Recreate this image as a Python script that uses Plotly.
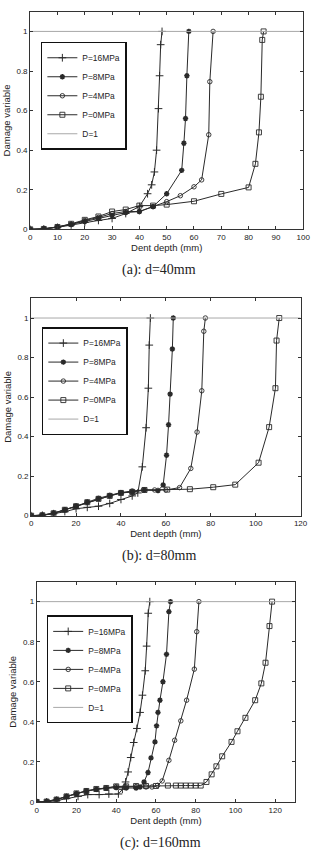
import plotly.graph_objects as go

# ---------------- data ----------------
series_names = ["P=16MPa", "P=8MPa", "P=4MPa", "P=0MPa"]

# (a) d=40mm
depth_a_p16 = [0, 5, 10, 15, 20, 25, 30, 35, 40, 43, 44.5, 45.5, 46.3, 47, 47.4, 47.8, 48.3]
damage_a_p16 = [0, 0.002, 0.01, 0.022, 0.035, 0.045, 0.055, 0.08, 0.115, 0.18, 0.225, 0.29, 0.40, 0.61, 0.776, 0.933, 1.0]
depth_a_p8 = [0, 5, 10, 15, 20, 25, 30, 35, 40, 45, 50, 55.5, 56.3, 56.9, 57.4, 58.1]
damage_a_p8 = [0, 0.003, 0.012, 0.025, 0.04, 0.055, 0.07, 0.085, 0.09, 0.115, 0.18, 0.298, 0.435, 0.56, 0.776, 1.0]
depth_a_p4 = [0, 5, 10, 15, 20, 25, 30, 35, 40, 45, 50, 55, 60, 62.8, 65.4, 65.8, 67]
damage_a_p4 = [0, 0.003, 0.012, 0.025, 0.045, 0.06, 0.08, 0.09, 0.09, 0.115, 0.14, 0.17, 0.215, 0.25, 0.478, 0.746, 1.0]
depth_a_p0 = [0, 5, 10, 15, 20, 25, 30, 35, 40, 45, 50, 60, 70, 80, 82.5, 83.8, 84.5, 85, 85.5]
damage_a_p0 = [0, 0.002, 0.012, 0.028, 0.048, 0.065, 0.09, 0.1, 0.12, 0.12, 0.125, 0.142, 0.179, 0.212, 0.331, 0.49, 0.67, 0.957, 1.0]

# (b) d=80mm
depth_b_p16 = [0, 5, 10, 15, 20, 25, 30, 35, 40, 45, 47.5, 49.5, 51.2, 52.2, 52.6, 53.1]
damage_b_p16 = [0, 0.002, 0.01, 0.02, 0.035, 0.042, 0.048, 0.062, 0.082, 0.1, 0.115, 0.247, 0.445, 0.645, 0.863, 1.0]
depth_b_p8 = [0, 5, 10, 15, 20, 25, 30, 35, 40, 45, 50.5, 56.5, 58.8, 60.3, 61.2, 61.9, 62.9, 63.3]
damage_b_p8 = [0, 0.003, 0.012, 0.03, 0.048, 0.068, 0.085, 0.1, 0.115, 0.12, 0.13, 0.127, 0.155, 0.306, 0.46, 0.615, 0.843, 1.0]
depth_b_p4 = [0, 5, 10, 15, 20, 25, 30, 35, 40, 45, 50, 55, 60, 66.1, 71.1, 73.9, 76, 76.9, 77.6]
damage_b_p4 = [0, 0.003, 0.013, 0.03, 0.048, 0.068, 0.088, 0.103, 0.117, 0.125, 0.13, 0.13, 0.13, 0.142, 0.239, 0.423, 0.632, 0.933, 1.0]
depth_b_p0 = [0, 5, 10, 15, 20, 25, 30, 35, 40, 45, 50.5, 60.6, 70.7, 81.1, 90.9, 101.3, 106, 108.8, 109.3, 110.5]
damage_b_p0 = [0, 0.002, 0.012, 0.03, 0.048, 0.068, 0.085, 0.1, 0.115, 0.12, 0.13, 0.132, 0.134, 0.144, 0.157, 0.268, 0.448, 0.645, 0.886, 1.0]

# (c) d=160mm
depth_c_p16 = [0, 5, 10, 15, 20.8, 25.7, 31.4, 36.3, 41.1, 43.1, 44.7, 46, 47.3, 48.8, 50.4, 52, 53.2, 54.6, 55.3, 56.1, 56.9]
damage_c_p16 = [0, 0.0, 0.007, 0.017, 0.028, 0.037, 0.037, 0.04, 0.04, 0.063, 0.1, 0.15, 0.222, 0.297, 0.367, 0.447, 0.533, 0.655, 0.778, 0.942, 1.0]
depth_c_p8 = [0, 5, 10, 15, 20, 25, 30, 35, 40, 45, 50, 52, 54, 56, 57.5, 59.5, 60.3, 61, 62, 63.5, 65.3, 66.5, 67.3]
damage_c_p8 = [0, 0.003, 0.013, 0.028, 0.042, 0.055, 0.063, 0.068, 0.072, 0.07, 0.07, 0.075, 0.1, 0.147, 0.22, 0.3, 0.38, 0.447, 0.508, 0.6, 0.737, 0.95, 1.0]
depth_c_p4 = [0, 5, 10, 15, 20, 25, 30, 35, 40, 45, 50, 55, 58, 60.8, 63.1, 66.5, 69.4, 72.5, 75.4, 79.3, 80.5, 81.6]
damage_c_p4 = [0, 0.003, 0.013, 0.028, 0.042, 0.055, 0.063, 0.07, 0.077, 0.075, 0.077, 0.075, 0.075, 0.083, 0.105, 0.208, 0.308, 0.405, 0.508, 0.663, 0.85, 1.0]
depth_c_p0 = [0, 5, 10, 15, 20, 25, 30, 35, 40, 45, 50, 55, 60, 66, 70, 72.5, 75, 77.5, 80, 82.5, 85.4, 88, 90.4, 93.3, 98, 101, 105, 109.9, 113, 115.1, 117.1, 118.4]
damage_c_p0 = [0, 0.002, 0.012, 0.028, 0.043, 0.055, 0.065, 0.07, 0.078, 0.078, 0.08, 0.08, 0.08, 0.082, 0.082, 0.082, 0.082, 0.082, 0.082, 0.082, 0.1, 0.138, 0.178, 0.228, 0.3, 0.353, 0.42, 0.508, 0.592, 0.695, 0.878, 1.0]

x_max = [100, 120, 130]
x_dtick = [10, 20, 20]
y_tick_vals = [0, 0.2, 0.4, 0.6, 0.8, 1.0]
captions = ["(a): d=40mm", "(b): d=80mm", "(c): d=160mm"]
reference_level = 1.0

panels = [
    [(depth_a_p16, damage_a_p16), (depth_a_p8, damage_a_p8), (depth_a_p4, damage_a_p4), (depth_a_p0, damage_a_p0)],
    [(depth_b_p16, damage_b_p16), (depth_b_p8, damage_b_p8), (depth_b_p4, damage_b_p4), (depth_b_p0, damage_b_p0)],
    [(depth_c_p16, damage_c_p16), (depth_c_p8, damage_c_p8), (depth_c_p4, damage_c_p4), (depth_c_p0, damage_c_p0)],
]

# ---------------- styling ----------------
W, H = 317, 858
LINE = "#2a2a2a"
markers = [
    dict(symbol="cross-thin", size=5.5, color=LINE, line=dict(width=1, color=LINE)),
    dict(symbol="asterisk", size=4.5, color=LINE, line=dict(width=1.5, color=LINE)),
    dict(symbol="circle-open", size=4.5, color=LINE, line=dict(width=0.9, color=LINE)),
    dict(symbol="square-open", size=5, color=LINE, line=dict(width=0.9, color=LINE)),
]
# axis boxes in pixels: (left, right, top, bottom)
boxes = [(29, 310, 11.7, 230.7), (30, 307.3, 300, 518.7), (35.7, 301.7, 585, 806.7)]
legend_pos = [(40, 42), (41, 329), (46, 619)]
caption_y = [272, 559, 848]
caption_x = [162, 162, 163]

fig = go.Figure()
FONT = "Liberation Sans, Arial, sans-serif"

for i, panel in enumerate(panels):
    xa = "x" if i == 0 else f"x{i+1}"
    ya = "y" if i == 0 else f"y{i+1}"
    lg = "legend" if i == 0 else f"legend{i+1}"
    for j, (xs, ys) in enumerate(panel):
        fig.add_trace(go.Scatter(
            x=xs, y=ys, mode="lines+markers", name=series_names[j],
            line=dict(color=LINE, width=1), marker=markers[j],
            xaxis=xa, yaxis=ya, legend=lg,
        ))
    fig.add_trace(go.Scatter(
        x=[0, x_max[i]], y=[reference_level, reference_level], mode="lines", name="D=1",
        line=dict(color="#a8a8a8", width=1), xaxis=xa, yaxis=ya, legend=lg,
    ))

    l, r, t, b = boxes[i]
    axis_common = dict(
        showline=True, linecolor="#333", linewidth=1, mirror="ticks",
        ticks="inside", ticklen=3, tickcolor="#333", showgrid=False, zeroline=False,
        tickfont=dict(family=FONT, size=8, color="#222"),
    )
    xkey = "xaxis" if i == 0 else f"xaxis{i+1}"
    ykey = "yaxis" if i == 0 else f"yaxis{i+1}"
    fig.update_layout(**{
        xkey: dict(axis_common, domain=[l / W, r / W], range=[0, x_max[i]], dtick=x_dtick[i],
                   tick0=0, anchor=ya,
                   title=dict(text="Dent depth (mm)", font=dict(family=FONT, size=9.5, color="#222"), standoff=3)),
        ykey: dict(axis_common, domain=[1 - b / H, 1 - t / H], range=[0, 1.1], tickvals=y_tick_vals,
                   anchor=xa,
                   title=dict(text="Damage variable", font=dict(family=FONT, size=9.5, color="#222"), standoff=4)),
        lg: dict(x=legend_pos[i][0] / W, y=1 - legend_pos[i][1] / H, xanchor="left", yanchor="top",
                 bgcolor="white", bordercolor="#111", borderwidth=1.5,
                 font=dict(family=FONT, size=8.4, color="#222"), itemwidth=30,
                 tracegroupgap=0),
    })
    fig.add_annotation(text=captions[i], x=caption_x[i] / W, y=1 - caption_y[i] / H,
                       xref="paper", yref="paper", showarrow=False, xanchor="center", yanchor="middle",
                       font=dict(family="Liberation Serif, serif", size=14, color="#222"))

fig.update_layout(
    width=W, height=H, margin=dict(l=0, r=0, t=0, b=0),
    paper_bgcolor="white", plot_bgcolor="white", showlegend=True,
)

fig.write_html("out.html")
